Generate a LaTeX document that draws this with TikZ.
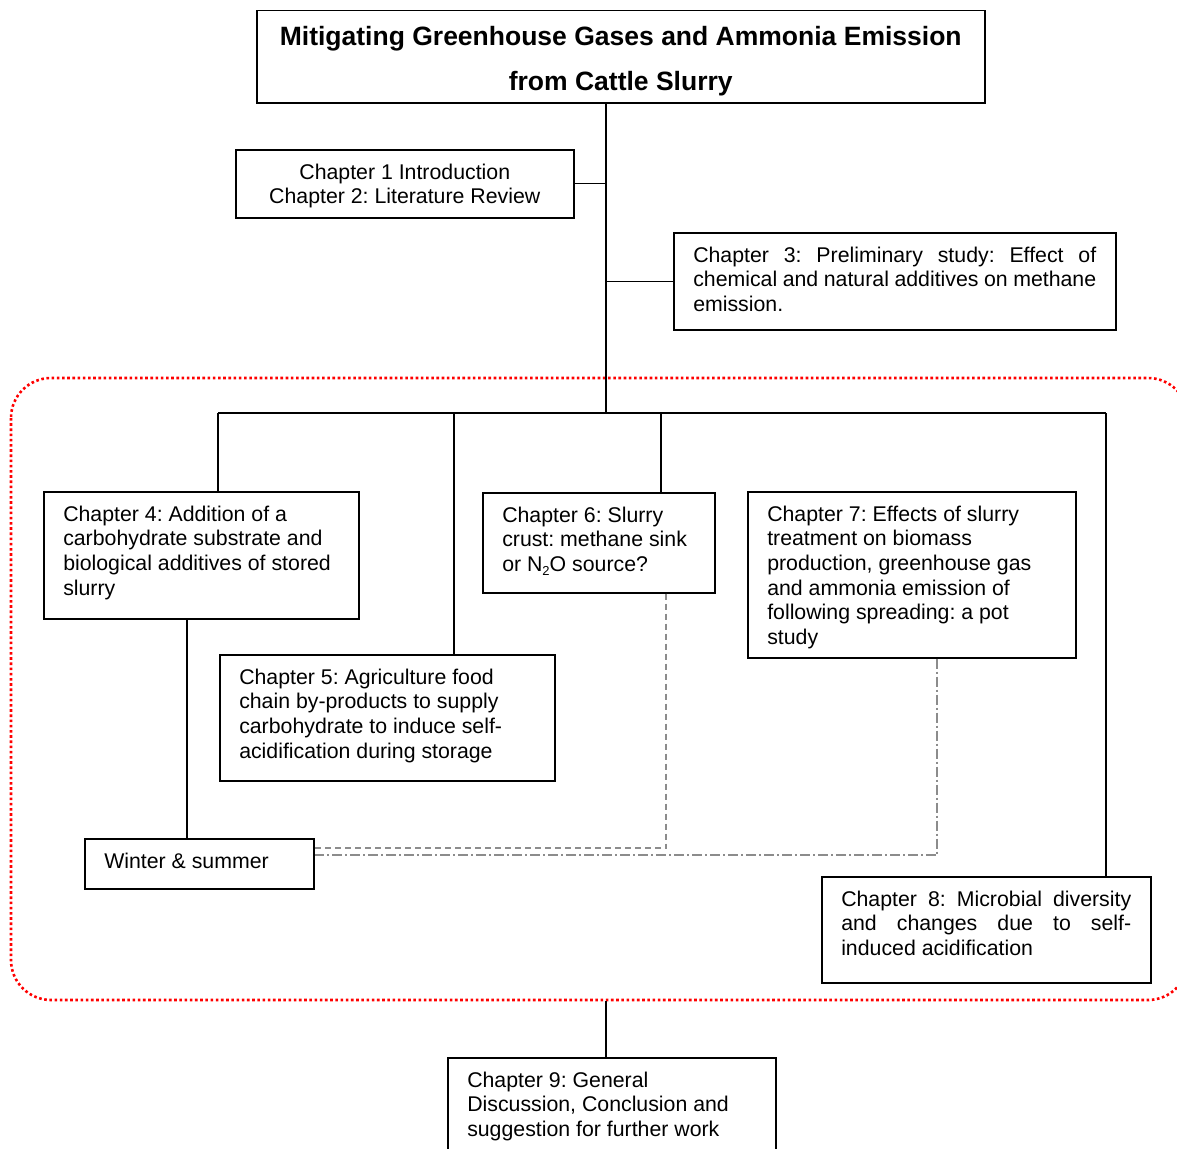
\documentclass[tikz,border=0pt]{standalone}
\usepackage{fontspec}
\setmainfont{Liberation Sans}
\frenchspacing
\newcommand\firstln{\rule{0pt}{29.5pt}}
\newcommand\lowsub[1]{\raisebox{-0.35ex}{\fontsize{13}{13}\selectfont #1}}
\tikzset{
  chbox/.style={draw, line width=1.5pt, inner xsep=19.5pt, inner ysep=0pt, anchor=north west,
    font=\fontsize{21.3}{24.6}\selectfont\frenchspacing},
  link/.style={line width=1.2pt},
  dashlink/.style={line width=1.2pt, black!45, dash pattern=on 6pt off 4pt},
  dotdashlink/.style={line width=1.2pt, black!45, dash pattern=on 10pt off 3pt on 2pt off 3pt},
  redframe/.style={red, line width=2.6pt, dash pattern=on 2.6pt off 2.6pt, rounded corners=40pt},
}
\begin{document}
\begin{tikzpicture}[x=1pt,y=-1pt]
\useasboundingbox (0,0) rectangle (1177,1148);

% frame
\draw[redframe] (11,378) rectangle (1188,1000);

% title
\node[draw, line width=1.5pt, inner sep=0pt, anchor=north west,
  font=\fontsize{26.5}{45}\selectfont\bfseries\frenchspacing] (title) at (256,10)
  {\parbox[c][92pt][t]{728pt}{\centering\rule{0pt}{35pt}Mitigating Greenhouse Gases and Ammonia Emission\\ from Cattle Slurry}};

\node[chbox] (c12) at (235,149)
  {\parbox[c][68pt][t]{299pt}{\centering\firstln Chapter 1 Introduction\\ Chapter 2: Literature Review}};

\node[chbox] (c3) at (673,232)
  {\parbox[c][97pt][t]{403pt}{\firstln Chapter 3: Preliminary study: Effect of\linebreak chemical and natural additives on methane\linebreak emission.}};

\node[chbox] (c4) at (43,491)
  {\parbox[c][127pt][t]{276pt}{\firstln Chapter 4: Addition of a\\ carbohydrate substrate and\\ biological additives of stored\\ slurry}};

\node[chbox] (c5) at (219,654)
  {\parbox[c][126pt][t]{296pt}{\firstln Chapter 5: Agriculture food\\ chain by-products to supply\\ carbohydrate to induce self-\\ acidification during storage}};

\node[chbox] (c6) at (482,492)
  {\parbox[c][100pt][t]{193pt}{\firstln Chapter 6: Slurry\\ crust: methane sink\\ or N\lowsub{2}O source?}};

\node[chbox] (c7) at (747,491)
  {\parbox[c][166pt][t]{289pt}{\firstln Chapter 7: Effects of slurry\\ treatment on biomass\\ production, greenhouse gas\\ and ammonia emission of\\ following spreading: a pot\\ study}};

\node[chbox] (win) at (84,838)
  {\parbox[c][50pt][t]{190pt}{\firstln Winter \& summer}};

\node[chbox] (c8) at (821,876)
  {\parbox[c][106pt][t]{290pt}{\firstln Chapter 8: Microbial diversity\linebreak and changes due to self-\linebreak induced acidification}};

\node[chbox] (c9) at (447,1057)
  {\parbox[c][95pt][t]{289pt}{\firstln Chapter 9: General\\ Discussion, Conclusion and\\ suggestion for further work}};

% coordinates
\coordinate (hub) at (606,413);
\coordinate (hL) at (218,413);
\coordinate (h5) at (454,413);
\coordinate (h6) at (661,413);
\coordinate (hR) at (1106,413);
\coordinate (w4) at (187,0);
\coordinate (d6) at (666,848);
\coordinate (d7) at (937,855);
\coordinate (bt) at (606,1001);

% tree
\draw[link] (title.south -| hub) -- (hub);
\draw[link] (c12.east) -- (c12.east -| hub);
\draw[link] (c3.west) -- (c3.west -| hub);
\draw[link] (hL) -- (hR);
\draw[link] (hL) -- (hL |- c4.north);
\draw[link] (h5) -- (h5 |- c5.north);
\draw[link] (h6) -- (h6 |- c6.north);
\draw[link] (hR) -- (hR |- c8.north);
\draw[link] (c4.south -| w4) -- (win.north -| w4);
\draw[link] (bt) -- (bt |- c9.north);

% dashed links
\draw[dashlink] (c6.south -| d6) -- (d6) -- (d6 -| win.east);
\draw[dotdashlink] (c7.south -| d7) -- (d7) -- (d7 -| win.east);
\end{tikzpicture}
\end{document}
